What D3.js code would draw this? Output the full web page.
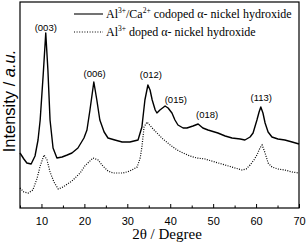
<!DOCTYPE html>
<html lang="en">
<head>
    <meta charset="UTF-8">
    <title>XRD patterns of nickel hydroxide</title>
    <script src="https://d3js.org/d3.v7.min.js"></script>
    <style>
        body { margin: 0; background: white; }
    </style>
</head>
<body>
    <div id="plot"></div>
    <script>
        const serif = "'Liberation Serif', 'Times New Roman', serif";
        const sans = "'Liberation Sans', Arial, sans-serif";

        // codoped Al3+/Ca2+ sample (solid line)
        const codopedX = [5.0, 5.9, 6.6, 7.6, 8.5, 9.2, 9.7, 10.4, 11.0, 11.5, 12.0, 12.7, 13.6, 14.8, 16.0, 17.1,
            18.5, 19.9, 20.6, 21.3, 22.2, 22.9, 23.6, 24.6, 25.5, 27.1, 28.8, 30.6, 32.5, 33.4, 34.1, 34.8,
            35.3, 35.8, 36.5, 36.9, 37.6, 38.8, 39.5, 40.4, 41.1, 41.8, 43.0, 43.9, 45.3, 46.5, 47.6, 48.8,
            51.1, 52.8, 54.4, 56.3, 57.4, 58.6, 59.3, 60.2, 60.7, 61.1, 61.6, 62.1, 62.8, 63.7, 65.1, 66.7,
            68.4, 70.0];
        const codopedY = [55, 49, 45, 44, 52, 68, 88, 133, 175, 138, 88, 60, 50, 51, 53, 55,
            60, 70, 78, 98, 126, 108, 88, 76, 70, 68, 66, 66, 68, 81, 108, 123,
            118, 108, 98, 95, 98, 102, 100, 95, 88, 83, 80, 80, 82, 84, 80, 78,
            75, 72, 70, 69, 68, 71, 75, 88, 96, 101, 95, 85, 76, 71, 69, 68,
            66, 64];

        // Al3+ doped sample (dotted line)
        const dopedX = [5.0, 5.9, 6.9, 8.0, 9.0, 9.7, 10.6, 11.3, 12.0, 12.9, 13.9, 15.0, 17.1, 19.0, 20.1, 22.0,
            23.2, 24.3, 25.5, 26.7, 29.0, 30.6, 32.3, 33.0, 33.4, 33.9, 34.6, 35.8, 36.9, 38.3, 40.0, 41.6,
            43.0, 44.6, 46.2, 48.1, 50.4, 52.8, 55.1, 56.7, 57.7, 58.6, 59.5, 60.2, 60.9, 61.4, 62.1, 62.8,
            63.7, 65.1, 66.7, 68.4, 70.0];
        const dopedY = [20, 16, 15, 18, 30, 42, 53, 48, 36, 26, 19, 21, 27, 35, 42, 50,
            48, 42, 37, 35, 35, 37, 41, 50, 61, 81, 86, 80, 75, 69, 63, 58,
            55, 52, 50, 49, 46, 43, 40, 38, 39, 43, 48, 53, 60, 63, 55, 45,
            41, 39, 38, 36, 35];

        // reflection labels
        const peakLabels = ["(003)", "(006)", "(012)", "(015)", "(018)", "(113)"];
        const peakPos = [11.0, 22.4, 35.5, 41.3, 48.6, 61.2];
        const peakLabelY = [177, 131, 130, 105, 90, 107];

        const xTicks = [10, 20, 30, 40, 50, 60, 70];
        const xMinorTicks = [5, 15, 25, 35, 45, 55, 65];

        const width = 307;
        const height = 242;
        const margin = { top: 2, right: 8, bottom: 34, left: 20 };

        const svg = d3.select("#plot")
            .append("svg")
            .attr("width", width)
            .attr("height", height);

        const xScale = d3.scaleLinear()
            .domain([5, 70])
            .range([margin.left, width - margin.right]);

        const yScale = d3.scaleLinear()
            .domain([0, 206])
            .range([height - margin.bottom, margin.top]);

        // frame
        svg.append("rect")
            .attr("x", margin.left)
            .attr("y", margin.top)
            .attr("width", width - margin.right - margin.left)
            .attr("height", height - margin.bottom - margin.top)
            .attr("fill", "none")
            .attr("stroke", "black")
            .attr("stroke-width", 1.2);

        // bottom axis, ticks pointing inward
        const xAxis = d3.axisBottom(xScale)
            .tickValues(xTicks)
            .tickSizeInner(-4)
            .tickSizeOuter(0)
            .tickPadding(9);

        const gx = svg.append("g")
            .attr("transform", `translate(0,${height - margin.bottom})`)
            .call(xAxis);
        gx.select(".domain").remove();
        gx.selectAll("text")
            .attr("font-family", sans)
            .attr("font-size", "11px")
            .attr("fill", "black");

        svg.append("g")
            .attr("transform", `translate(0,${height - margin.bottom})`)
            .call(d3.axisBottom(xScale).tickValues(xMinorTicks).tickSizeInner(-2.5).tickSizeOuter(0).tickFormat(""))
            .select(".domain").remove();

        // axis titles
        svg.append("text")
            .attr("x", 167)
            .attr("y", 239)
            .attr("text-anchor", "middle")
            .attr("font-family", serif)
            .attr("font-size", "15px")
            .text("2\u03b8 / Degree");

        const yTitle = svg.append("text")
            .attr("transform", "translate(15,101) rotate(-90)")
            .attr("text-anchor", "middle")
            .attr("font-family", sans)
            .attr("font-size", "16.5px");
        yTitle.append("tspan").text("Intensity / ");
        yTitle.append("tspan").attr("font-style", "italic").text("a.u.");

        const line = d3.line()
            .x(d => xScale(d[0]))
            .y(d => yScale(d[1]));

        svg.append("path")
            .datum(d3.zip(dopedX, dopedY))
            .attr("d", line)
            .attr("fill", "none")
            .attr("stroke", "black")
            .attr("stroke-width", 1.2)
            .attr("stroke-dasharray", "1,1.4");

        svg.append("path")
            .datum(d3.zip(codopedX, codopedY))
            .attr("d", line)
            .attr("fill", "none")
            .attr("stroke", "black")
            .attr("stroke-width", 1.4)
            .attr("stroke-linejoin", "round");

        // peak labels
        svg.selectAll(".peak")
            .data(peakLabels)
            .enter()
            .append("text")
            .attr("class", "peak")
            .attr("x", (d, i) => xScale(peakPos[i]))
            .attr("y", (d, i) => yScale(peakLabelY[i]))
            .attr("text-anchor", "middle")
            .attr("font-family", sans)
            .attr("font-size", "9.5px")
            .text(d => d);

        // legend
        const legend = svg.append("g");
        const legendRows = [
            { dash: null, parts: [["Al", 0], ["3+", 1], ["/Ca", 0], ["2+", 1], [" codoped \u03b1- nickel hydroxide", 0]] },
            { dash: "1,1.6", parts: [["Al", 0], ["3+", 1], [" doped \u03b1- nickel hydroxide", 0]] }
        ];
        legendRows.forEach((row, i) => {
            const y = 14 + i * 18;
            legend.append("line")
                .attr("x1", 74).attr("x2", 103)
                .attr("y1", y).attr("y2", y)
                .attr("stroke", "black")
                .attr("stroke-width", 1.1)
                .attr("stroke-dasharray", row.dash);
            const t = legend.append("text")
                .attr("x", 106)
                .attr("y", y + 4)
                .attr("font-family", serif)
                .attr("font-size", "12px");
            let up = 0;
            row.parts.forEach(p => {
                const shift = p[1] ? -5 : 0;
                t.append("tspan")
                    .attr("dy", shift - up)
                    .attr("font-size", p[1] ? "7.5px" : "12px")
                    .text(p[0]);
                up = shift;
            });
        });
    </script>
</body>
</html>
